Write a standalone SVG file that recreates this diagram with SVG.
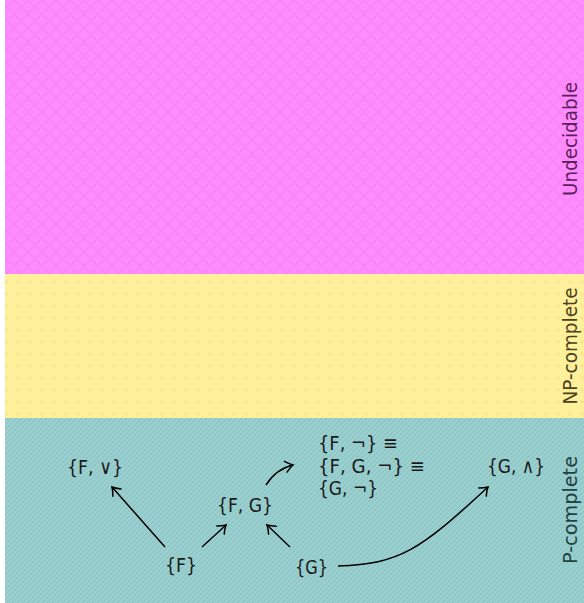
<svg xmlns="http://www.w3.org/2000/svg" width="584" height="603" viewBox="0 0 584 603">
<defs>
<pattern id="pMag" width="14" height="14" patternUnits="userSpaceOnUse">
<rect width="14" height="14" fill="#ff8cff"/>
<path d="M0 0 L14 14 M14 0 L0 14" stroke="#f884f8" stroke-width="1.5"/>
</pattern>
<pattern id="pYel" width="12" height="12" patternUnits="userSpaceOnUse">
<rect width="12" height="12" fill="#fff09c"/>
<circle cx="6" cy="6" r="1.8" fill="#f8e58c"/>
</pattern>
<pattern id="pTeal" width="5" height="5" patternUnits="userSpaceOnUse">
<rect width="5" height="5" fill="#9acfcf"/>
<path d="M-1 6 L6 -1 M-1 1 L1 -1 M4 6 L6 4" stroke="#88bfbf" stroke-width="1"/>
</pattern>
<marker id="arr" markerWidth="14" markerHeight="14" refX="11" refY="7" orient="auto" markerUnits="userSpaceOnUse">
<path d="M3.5 1.5 Q8 5.5 11 7 Q8 8.5 3.5 12.5" fill="none" stroke="#000" stroke-width="1.5" stroke-linecap="round"/>
</marker>
<style>
.t{font-family:"DejaVu Sans","Noto Sans",sans-serif;font-size:20px;fill:#1a1a1a}
.s{font-family:"DejaVu Sans","Noto Sans",sans-serif;font-size:19px;text-anchor:middle}
.e{fill:none;stroke:#000;stroke-width:1.5;marker-end:url(#arr)}
</style>
</defs>
<g id="bands">
<rect x="5" y="0" width="579" height="274" fill="url(#pMag)"/>
<rect x="5" y="274" width="579" height="144" fill="url(#pYel)"/>
<rect x="5" y="418" width="579" height="185" fill="url(#pTeal)"/>
<text class="s" transform="translate(577 139) rotate(-90)" fill="#5c1d5c" textLength="114" lengthAdjust="spacingAndGlyphs">Undecidable</text>
<text class="s" transform="translate(577 346) rotate(-90)" fill="#4a4320" textLength="117" lengthAdjust="spacingAndGlyphs">NP-complete</text>
<text class="s" transform="translate(577 510) rotate(-90)" fill="#1f4242" textLength="108" lengthAdjust="spacingAndGlyphs">P-complete</text>
</g>
<g id="connectors">
<path class="e" d="M165 547 L112 487"/>
<path class="e" d="M202 547 L226 525"/>
<path class="e" d="M290 547 L267 525"/>
<path class="e" d="M266 485 Q276 469 293 465"/>
<path class="e" d="M338 566 C400 564 420 550 488 487"/>
</g>
<g id="n-FOr"><text class="t" x="67" y="474" textLength="56" lengthAdjust="spacingAndGlyphs">{F, ∨}</text></g>
<g id="n-FG"><text class="t" x="217" y="512" textLength="56" lengthAdjust="spacingAndGlyphs">{F, G}</text></g>
<g id="n-F"><text class="t" x="165" y="572" textLength="32" lengthAdjust="spacingAndGlyphs">{F}</text></g>
<g id="n-G"><text class="t" x="295" y="574" textLength="33" lengthAdjust="spacingAndGlyphs">{G}</text></g>
<g id="n-GAnd"><text class="t" x="487" y="473" textLength="58" lengthAdjust="spacingAndGlyphs">{G, ∧}</text></g>
<g id="n-neg">
<text class="t" x="318" y="450" textLength="80" lengthAdjust="spacingAndGlyphs">{F, ¬} ≡</text>
<text class="t" x="318" y="473" textLength="107" lengthAdjust="spacingAndGlyphs">{F, G, ¬} ≡</text>
<text class="t" x="318" y="495" textLength="60" lengthAdjust="spacingAndGlyphs">{G, ¬}</text>
</g>
</svg>
